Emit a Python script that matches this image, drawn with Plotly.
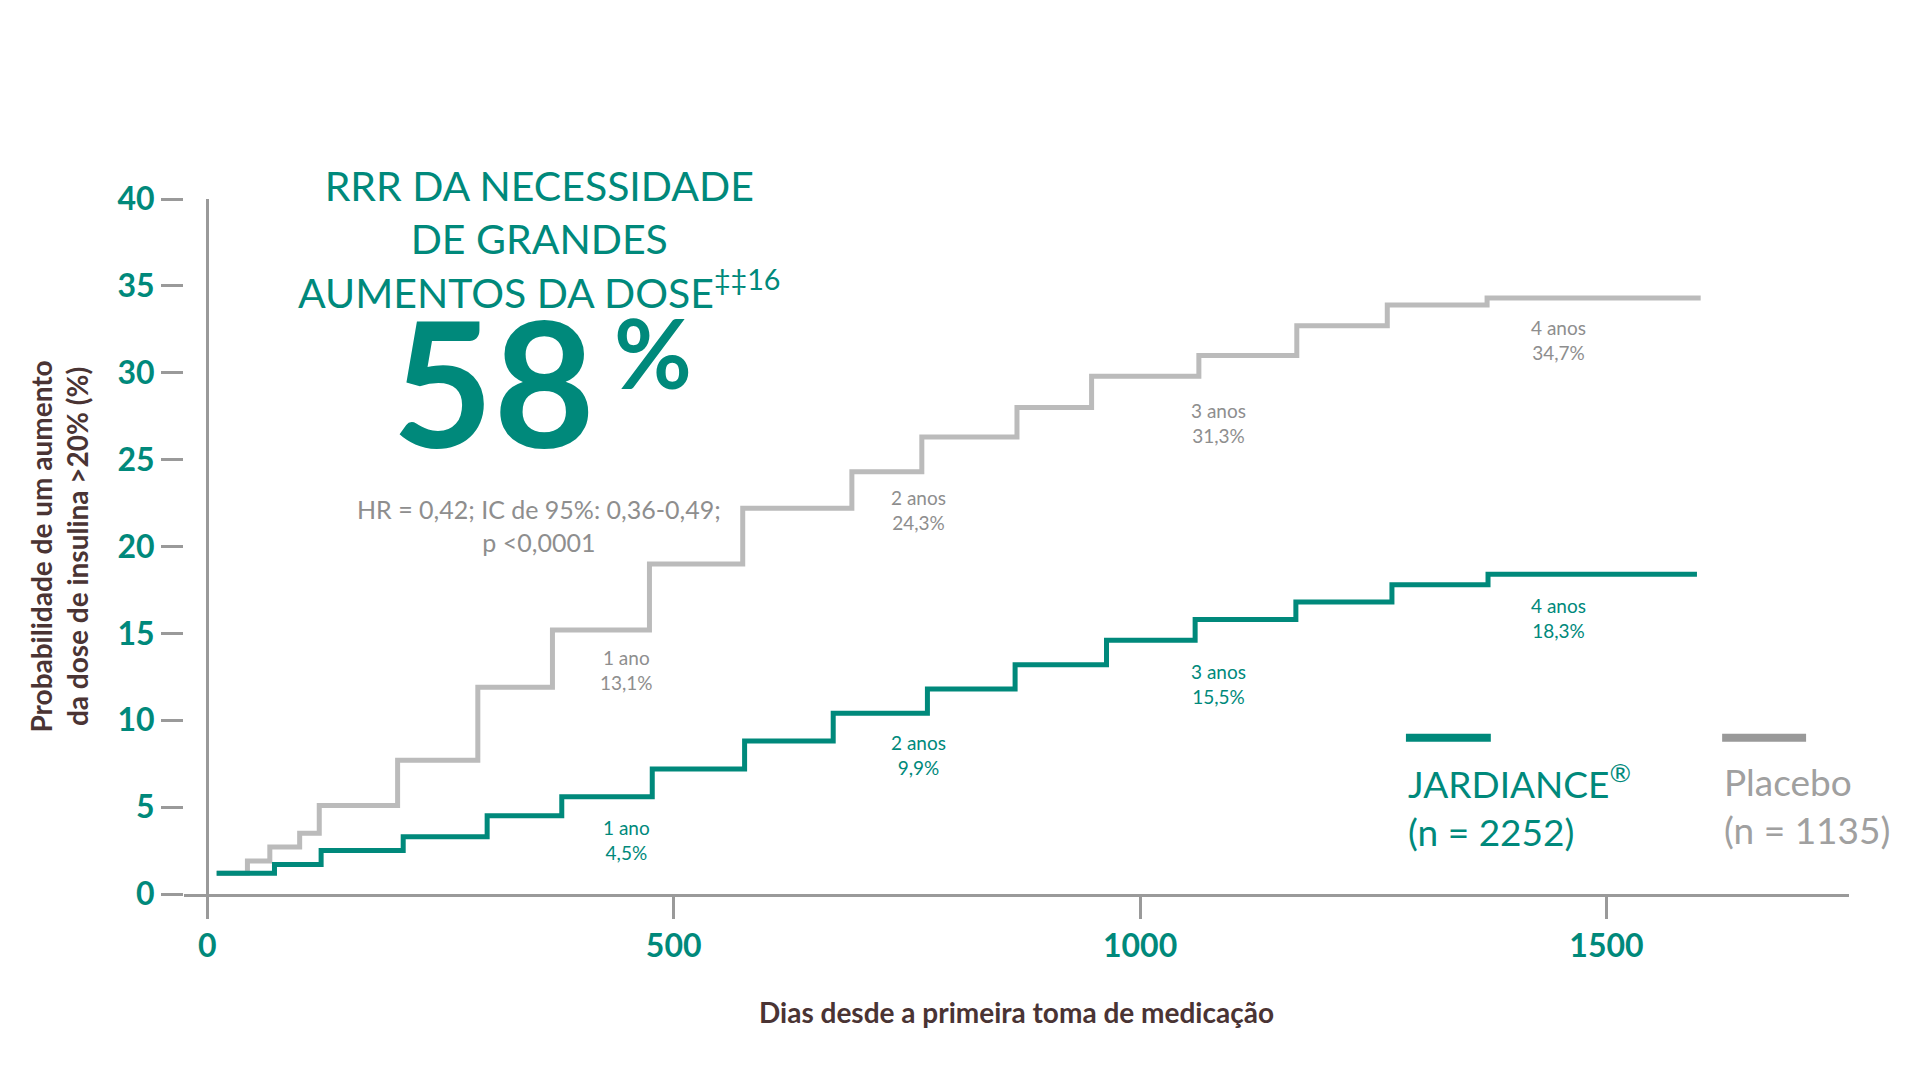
import plotly.graph_objects as go

# Kaplan-Meier style step data (days, cumulative %)
placebo_days = [10, 43, 67, 99, 120, 204, 290, 370, 474, 574, 691, 766, 868, 948, 1063, 1168, 1265, 1372, 1601]
placebo_pct = [1.2, 1.9, 2.7, 3.5, 5.1, 7.7, 11.9, 15.2, 19.0, 22.2, 24.3, 26.3, 28.0, 29.8, 31.0, 32.7, 33.9, 34.3, 34.3]
jard_days = [10, 72, 122, 210, 300, 380, 477, 576, 671, 772, 866, 964, 1059, 1167, 1270, 1373, 1597]
jard_pct = [1.2, 1.7, 2.5, 3.3, 4.5, 5.6, 7.2, 8.8, 10.4, 11.8, 13.2, 14.6, 15.8, 16.8, 17.8, 18.4, 18.4]

year_x = [449, 762, 1084, 1449]
placebo_labels = ["1 ano<br>13,1%", "2 anos<br>24,3%", "3 anos<br>31,3%", "4 anos<br>34,7%"]
placebo_label_y = [12.9, 22.1, 27.1, 31.9]
jard_labels = ["1 ano<br>4,5%", "2 anos<br>9,9%", "3 anos<br>15,5%", "4 anos<br>18,3%"]
jard_label_y = [3.1, 8.0, 12.1, 15.9]

TEAL = "#00897B"
GRAY = "#BBBBBB"
TXT_GRAY = "#8E8E8E"
BROWN = "#4A3434"
FONT = "Lato"

fig = go.Figure()
fig.add_trace(go.Scatter(x=placebo_days, y=placebo_pct, mode="lines", line=dict(color=GRAY, width=5, shape="hv"), hoverinfo="skip"))
fig.add_trace(go.Scatter(x=jard_days, y=jard_pct, mode="lines", line=dict(color=TEAL, width=5, shape="hv"), hoverinfo="skip"))

# legend drawn by hand
fig.add_trace(go.Scatter(x=[1285, 1376], y=[9, 9], mode="lines", line=dict(color=TEAL, width=8), hoverinfo="skip"))
fig.add_trace(go.Scatter(x=[1624, 1714], y=[9, 9], mode="lines", line=dict(color="#999999", width=8), hoverinfo="skip"))

ann = []
for x, t, y in zip(year_x, placebo_labels, placebo_label_y):
    ann.append(dict(x=x, y=y, text=t, font=dict(size=19, color=TXT_GRAY)))
for x, t, y in zip(year_x, jard_labels, jard_label_y):
    ann.append(dict(x=x, y=y, text=t, font=dict(size=19, color=TEAL)))

ann += [
    dict(x=307, y=29.6, text="<b>58</b>", font=dict(size=175, color=TEAL)),
    dict(x=478, y=31.2, text="<b>%</b>", font=dict(size=95, color=TEAL)),
    dict(x=356, y=21.2, text="HR = 0,42; IC de 95%: 0,36-0,49;<br>p <0,0001", font=dict(size=25, color=TXT_GRAY)),
    dict(x=1285, y=5.1, text="JARDIANCE<sup>®</sup><br>(n = 2252)", xanchor="left", align="left",
         font=dict(size=37, color=TEAL)),
    dict(x=1624, y=5.1, text="Placebo<br>(n = 1135)", xanchor="left", align="left",
         font=dict(size=37, color="#A0A0A0")),
]
for a in ann:
    a.update(xref="x", yref="y", showarrow=False, font_family=FONT)

# title sits above the plot area, so place it in paper coordinates
ann.append(dict(x=356, xref="x", y=1.057, yref="paper", showarrow=False,
                text="RRR DA NECESSIDADE<br>DE GRANDES<br>AUMENTOS DA DOSE<sup>‡‡16</sup>",
                font=dict(size=41, color=TEAL, family=FONT)))
fig.update_layout(annotations=ann)

fig.update_layout(
    width=1921, height=1081,
    margin=dict(l=176, r=80, t=191, b=195),
    paper_bgcolor="white", plot_bgcolor="white",
    showlegend=False,
    font=dict(family=FONT),
)
fig.update_xaxes(
    range=[-25, 1760], tickvals=[0, 500, 1000, 1500], ticktext=["0", "500", "1000", "1500"],
    showgrid=False, showline=True, linecolor="#9A9A9A", linewidth=3,
    zeroline=True, zerolinecolor="#9A9A9A", zerolinewidth=3,
    ticks="outside", ticklen=22, tickwidth=3, tickcolor="#9A9A9A",
    tickfont=dict(size=32, color=TEAL, family=FONT, weight="bold"),
    title=dict(text="Dias desde a primeira toma de medicação", standoff=40,
               font=dict(size=28, color=BROWN, family=FONT, weight="bold")),
)
fig.update_yaxes(
    range=[0, 40], dtick=5, showgrid=False, zeroline=False, showline=False,
    ticks="outside", ticklen=22, tickwidth=3, tickcolor="#9A9A9A",
    tickfont=dict(size=32, color=TEAL, family=FONT, weight="bold"),
    title=dict(text="Probabilidade de um aumento<br>da dose de insulina >20% (%)", standoff=20,
               font=dict(size=28, color=BROWN, family=FONT, weight="bold")),
)

fig.write_html("out.html")
